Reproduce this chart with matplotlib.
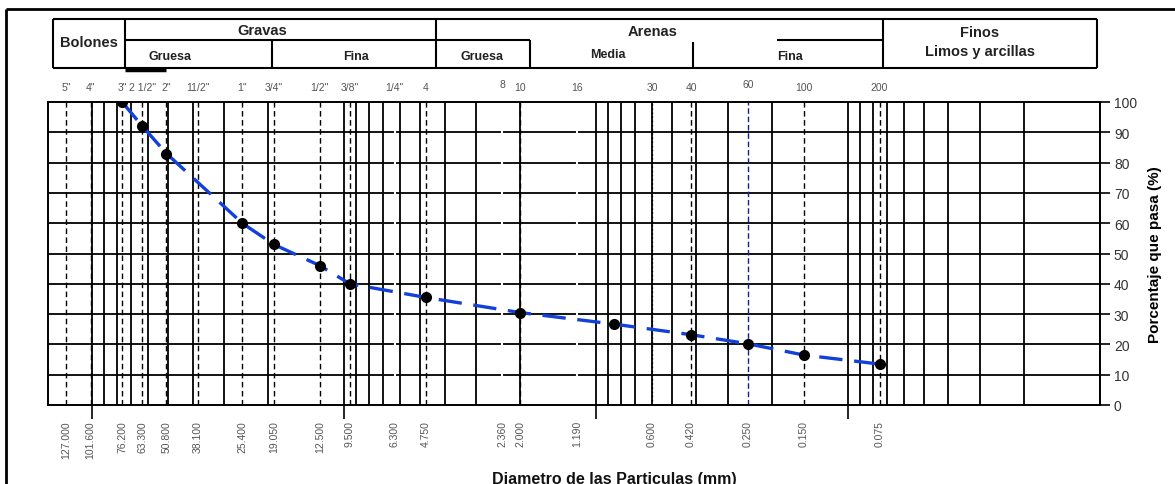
import matplotlib.pyplot as plt
from matplotlib.transforms import blended_transform_factory

plt.rcParams['font.family'] = ['Liberation Sans', 'DejaVu Sans']

# tamices
sieve_mm = [127.0, 101.6, 76.2, 63.3, 50.8, 38.1, 25.4, 19.05, 12.5, 9.5,
            6.3, 4.75, 2.36, 2.0, 1.19, 0.6, 0.42, 0.25, 0.15, 0.075]
sieve_top = ['5"', '4"', '3"', '2 1/2"', '2"', '11/2"', '1"', '3/4"', '1/2"', '3/8"',
             '1/4"', '4', '8', '10', '16', '30', '40', '60', '100', '200']
sieve_bottom = ['127.000', '101.600', '76.200', '63.300', '50.800', '38.100',
                '25.400', '19.050', '12.500', '9.500', '6.300', '4.750', '2.360',
                '2.000', '1.190', '0.600', '0.420', '0.250', '0.150', '0.075']

# ensayo granulometrico
diam = [76.2, 63.3, 50.8, 25.4, 19.05, 12.5, 9.5, 4.75, 2.0, 0.85, 0.42, 0.25, 0.15, 0.075]
pasa = [100, 92, 83, 60, 53, 46, 40, 35.5, 30.5, 26.7, 23.2, 20.2, 16.5, 13.5]

W, H = 1175, 485
fig = plt.figure(figsize=(W / 100, H / 100), dpi=100)
L, R, T, B = 48, 1100, 103, 406
ax = fig.add_axes([L / W, 1 - B / H, (R - L) / W, (B - T) / H])
ax.set_xscale('log')
ax.set_xlim(150, 0.01)
ax.set_ylim(0, 100)

# rejilla log
for dec in [0.01, 0.1, 1, 10, 100]:
    for k in range(1, 10):
        v = dec * k
        if 0.01 <= v <= 150:
            ax.axvline(v, color='black', lw=1.3, zorder=1)
for yv in range(10, 100, 10):
    ax.axhline(yv, color='black', lw=1.3, zorder=1)

# lineas de tamices
for s in sieve_mm:
    if s in (6.3, 2.36, 1.19):
        ax.axvline(s, color='white', lw=1.5, zorder=2)
    elif s == 0.6:
        ax.axvline(s, color='black', lw=1.0, ls=(0, (1, 2)), zorder=2)
    elif s == 0.25:
        ax.axvline(s, color='#1a1a9a', lw=1.0, ls=(0, (4, 2)), zorder=2)
    else:
        ax.axvline(s, color='black', lw=1.0, ls=(0, (4, 2.5)), zorder=2)

ax.plot(diam, pasa, color='#1240d8', lw=2.4, ls=(0, (7, 3.5)), zorder=4)
ax.plot(diam, pasa, 'o', color='black', ms=7, zorder=5)

for sp in ax.spines.values():
    sp.set_linewidth(1.4)

ax.set_xticks([100, 10, 1, 0.1])
ax.set_xticks([], minor=True)
ax.tick_params(axis='x', direction='out', length=10, width=1.2, labelbottom=False)
ax.yaxis.tick_right()
ax.set_yticks(range(0, 101, 10))
ax.tick_params(axis='y', direction='out', length=7, width=1.2, labelsize=10,
               labelcolor='#333333', pad=3)
ax.yaxis.set_label_position('right')
ax.set_ylabel('Porcentaje que pasa (%)', fontsize=11, fontweight='bold', labelpad=8)

tr = blended_transform_factory(ax.transData, ax.transAxes)
for s, top, bot in zip(sieve_mm, sieve_top, sieve_bottom):
    dy = 0.01 if top in ('8', '60') else 0
    ax.text(s, 1.05 + dy, top, transform=tr, ha='center', va='center',
            fontsize=7.5, color='#555555')
    ax.text(s, -0.05, bot, transform=tr, ha='center', va='top', rotation=90,
            fontsize=7.5, color='#555555')

# encabezado en pixeles
ov = fig.add_axes([0, 0, 1, 1], zorder=-1)
ov.set_xlim(0, W)
ov.set_ylim(H, 0)
ov.axis('off')
ov.patch.set_alpha(0)

def ln(x0, y0, x1, y1, lw=1.5):
    ov.plot([x0, x1], [y0, y1], color='black', lw=lw, solid_capstyle='butt')

ln(6, 10, W, 10, 2)
ln(6, 10, 6, H, 2)
ln(53, 20, 1097, 20)
ln(53, 69, 1097, 69)
ln(53, 20, 53, 69)
ln(125, 20, 125, 69)
ln(436, 20, 436, 69)
ln(883, 20, 883, 69)
ln(1097, 20, 1097, 69)
ln(125, 41, 436, 41)
ln(272, 41, 272, 69)
ln(436, 41, 530, 41)
ln(530, 41, 530, 69)
ln(777, 41, 883, 41)
ln(693, 43, 693, 69)
ln(125, 71, 166, 71, 2.5)

hb = dict(fontweight='bold', ha='center', va='center', color='#222222')
ov.text(89, 43, 'Bolones', fontsize=10.5, **hb)
ov.text(262, 31, 'Gravas', fontsize=10.5, **hb)
ov.text(170, 57, 'Gruesa', fontsize=9, **hb)
ov.text(356, 57, 'Fina', fontsize=9, **hb)
ov.text(653, 32, 'Arenas', fontsize=10.5, **hb)
ov.text(482, 57, 'Gruesa', fontsize=9, **hb)
ov.text(608, 55, 'Media', fontsize=9, **hb)
ov.text(790, 57, 'Fina', fontsize=9, **hb)
ov.text(980, 33, 'Finos', fontsize=10.5, **hb)
ov.text(980, 52, 'Limos y arcillas', fontsize=10.5, **hb)
ov.text(614, 472, 'Diametro de las Particulas (mm)', fontsize=11.5,
        fontweight='bold', ha='center', va='top', color='#111111')

fig.savefig('out.png', dpi=100)
